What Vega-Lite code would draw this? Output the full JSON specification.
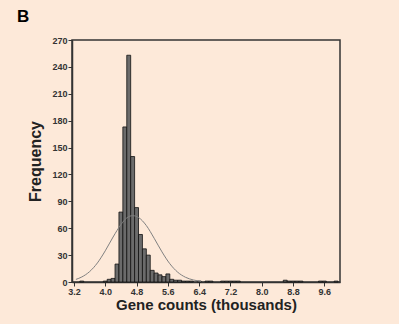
{
  "$schema": "https://vega.github.io/schema/vega-lite/v6.json",
  "autosize": "none",
  "width": 268,
  "height": 242,
  "padding": {"left": 72, "top": 40, "right": 59, "bottom": 42},
  "background": "#fde9d9",
  "title": {"text": "B", "anchor": "start", "frame": "group", "dx": -55, "dy": -6, "fontSize": 17, "font": "Liberation Sans", "fontWeight": "bold", "color": "#000"},
  "config": {
    "view": {"stroke": "#333", "strokeWidth": 1.5},
    "axis": {"labelFont": "Liberation Sans", "labelFontWeight": "bold", "labelFontSize": 9, "labelColor": "#333", "labelOverlap": false, "titleFont": "Liberation Sans", "titleFontWeight": "bold", "titleColor": "#222", "domainColor": "#333", "domainWidth": 1.5, "tickColor": "#333", "tickSize": 4, "grid": false}
  },
  "datasets": {
    "bars": [
      {"x0": 3.35, "x1": 3.45, "count": 1},
      {"x0": 3.95, "x1": 4.05, "count": 1},
      {"x0": 4.05, "x1": 4.15, "count": 3},
      {"x0": 4.15, "x1": 4.25, "count": 4},
      {"x0": 4.25, "x1": 4.35, "count": 20},
      {"x0": 4.35, "x1": 4.45, "count": 78},
      {"x0": 4.45, "x1": 4.55, "count": 173},
      {"x0": 4.55, "x1": 4.65, "count": 253},
      {"x0": 4.65, "x1": 4.75, "count": 140},
      {"x0": 4.75, "x1": 4.85, "count": 83},
      {"x0": 4.85, "x1": 4.95, "count": 53},
      {"x0": 4.95, "x1": 5.05, "count": 37},
      {"x0": 5.05, "x1": 5.15, "count": 30},
      {"x0": 5.15, "x1": 5.25, "count": 13},
      {"x0": 5.25, "x1": 5.35, "count": 10},
      {"x0": 5.35, "x1": 5.45, "count": 8},
      {"x0": 5.45, "x1": 5.55, "count": 6},
      {"x0": 5.55, "x1": 5.65, "count": 9},
      {"x0": 5.65, "x1": 5.75, "count": 3},
      {"x0": 5.75, "x1": 5.85, "count": 2},
      {"x0": 5.85, "x1": 5.95, "count": 2},
      {"x0": 5.95, "x1": 6.05, "count": 1},
      {"x0": 6.05, "x1": 6.15, "count": 1},
      {"x0": 6.15, "x1": 6.25, "count": 1},
      {"x0": 6.35, "x1": 6.45, "count": 1},
      {"x0": 6.55, "x1": 6.65, "count": 1},
      {"x0": 6.65, "x1": 6.75, "count": 1},
      {"x0": 6.95, "x1": 7.05, "count": 1},
      {"x0": 7.05, "x1": 7.15, "count": 1},
      {"x0": 7.15, "x1": 7.25, "count": 1},
      {"x0": 7.25, "x1": 7.35, "count": 1},
      {"x0": 7.35, "x1": 7.45, "count": 1},
      {"x0": 8.55, "x1": 8.65, "count": 2},
      {"x0": 8.65, "x1": 8.75, "count": 1},
      {"x0": 8.75, "x1": 8.85, "count": 1},
      {"x0": 8.85, "x1": 8.95, "count": 1},
      {"x0": 8.95, "x1": 9.05, "count": 1},
      {"x0": 9.45, "x1": 9.55, "count": 1},
      {"x0": 9.55, "x1": 9.65, "count": 1},
      {"x0": 9.85, "x1": 9.95, "count": 1}
    ],
    "curve": [
      {"x": 3.25, "y": 2.9},
      {"x": 3.4, "y": 5.6},
      {"x": 3.6, "y": 11.6},
      {"x": 3.8, "y": 21.3},
      {"x": 4.0, "y": 34.8},
      {"x": 4.2, "y": 50.2},
      {"x": 4.4, "y": 64.0},
      {"x": 4.55, "y": 71.5},
      {"x": 4.7, "y": 74.0},
      {"x": 4.85, "y": 72.0},
      {"x": 5.05, "y": 63.0},
      {"x": 5.25, "y": 48.8},
      {"x": 5.45, "y": 33.6},
      {"x": 5.65, "y": 20.4},
      {"x": 5.85, "y": 11.0},
      {"x": 6.05, "y": 5.3},
      {"x": 6.25, "y": 2.3},
      {"x": 6.45, "y": 0.8}
    ]
  },
  "layer": [
    {
      "data": {"name": "bars"},
      "mark": {"type": "bar", "fill": "#6b6b6b", "stroke": "#111", "strokeWidth": 0.8},
      "encoding": {
        "x": {"field": "x0", "type": "quantitative", "scale": {"domain": [3.15, 10.0], "nice": false, "zero": false},
              "axis": {"values": [3.2, 4.0, 4.8, 5.6, 6.4, 7.2, 8.0, 8.8, 9.6], "format": ".1f", "title": "Gene counts (thousands)", "titleFontSize": 15, "titlePadding": 1, "labelPadding": 1}},
        "x2": {"field": "x1"},
        "y": {"field": "count", "type": "quantitative", "scale": {"domain": [0, 270], "nice": false},
              "axis": {"values": [0, 30, 60, 90, 120, 150, 180, 210, 240, 270], "title": "Frequency", "titleFontSize": 16, "titlePadding": 8, "labelPadding": 1}},
        "y2": {"datum": 0}
      }
    },
    {
      "data": {"name": "curve"},
      "mark": {"type": "line", "interpolate": "monotone", "color": "#808080", "strokeWidth": 1},
      "encoding": {
        "x": {"field": "x", "type": "quantitative", "scale": {"domain": [3.15, 10.0], "nice": false, "zero": false},
              "axis": {"values": [3.2, 4.0, 4.8, 5.6, 6.4, 7.2, 8.0, 8.8, 9.6], "format": ".1f", "title": "Gene counts (thousands)", "titleFontSize": 15, "titlePadding": 1, "labelPadding": 1}},
        "y": {"field": "y", "type": "quantitative", "scale": {"domain": [0, 270], "nice": false},
              "axis": {"values": [0, 30, 60, 90, 120, 150, 180, 210, 240, 270], "title": "Frequency", "titleFontSize": 16, "titlePadding": 8, "labelPadding": 1}}
      }
    }
  ]
}
